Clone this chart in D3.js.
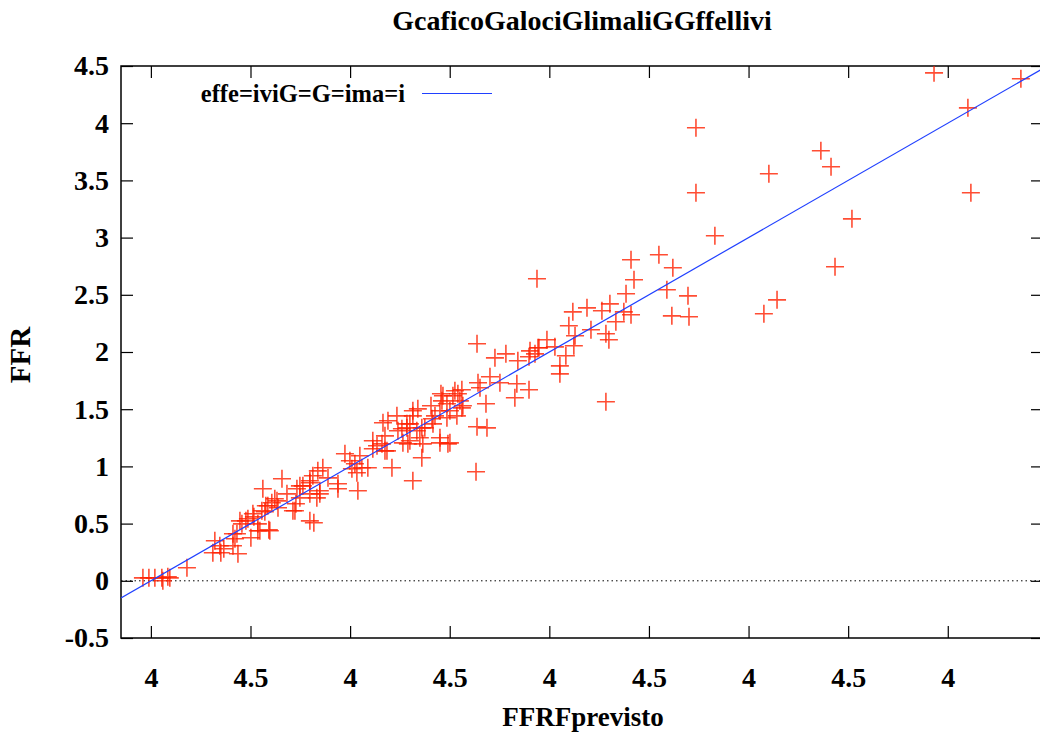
<!DOCTYPE html>
<html>
<head>
<meta charset="utf-8">
<script src="https://cdn.jsdelivr.net/npm/d3@7"></script>
<style>
  body { margin: 0; background: #fff; }
  svg { display: block; }
  text { font-family: "Liberation Serif", "Times New Roman", serif; font-weight: bold; fill: #000; }
</style>
</head>
<body>
<svg id="chart" width="1040" height="736"></svg>
<script>
// Labels
const titleText = "GcaficoGalociGlimaliGGffellivi";
const xLabelText = "FFRFprevisto";
const yLabelText = "FFR";
const legendText = "effe=iviG=G=ima=i";

// Tick values and the labels printed under / beside them
const xTickValues = [0, 0.5, 1, 1.5, 2, 2.5, 3, 3.5, 4];
const xTickLabels = ["4", "4.5", "4", "4.5", "4", "4.5", "4", "4.5", "4"];
const yTickValues = [-0.5, 0, 0.5, 1, 1.5, 2, 2.5, 3, 3.5, 4, 4.5];
const yTickLabels = ["-0.5", "0", "0.5", "1", "1.5", "2", "2.5", "3", "3.5", "4", "4.5"];

// Predicted FFR (x) and measured FFR (y), one entry per case
const ffrPredicted = [
  -0.040, -0.010, 0.020, 0.055, 0.060, 0.085, 0.095, 0.181,
  0.321, 0.346, 0.311, 0.351, 0.422, 0.432, 0.412, 0.437, 0.457, 0.502, 0.517, 0.537,
  0.547, 0.562, 0.572, 0.592, 0.607, 0.622, 0.638, 0.658, 0.577, 0.477,
  0.683, 0.733, 0.763, 0.798, 0.813, 0.838, 0.863, 0.848, 0.798, 0.833,
  0.939, 0.939, 0.889, 1.039, 0.974, 0.999, 1.024, 1.009, 1.034, 1.059,
  1.089, 1.049, 1.114, 1.135, 1.160, 1.175, 1.165, 1.190, 1.185, 1.210,
  1.235, 1.240, 1.260, 1.285, 1.300, 1.315, 1.340, 1.335, 1.350, 1.365,
  1.375, 1.360, 1.315, 1.300, 1.265, 1.114, 0.798, 0.713, 0.748,
  1.637, 1.782, 1.727, 1.842, 1.903, 1.928, 1.943, 1.988, 1.702, 1.642,
  1.652, 1.752, 1.837, 1.898, 1.827, 1.682, 1.561, 1.541, 1.516, 1.466,
  1.461, 1.486, 1.551, 1.561, 1.501, 1.451, 1.426, 1.411, 1.486, 1.536,
  1.406, 1.315, 1.285, 1.360, 1.637, 1.687, 1.632, 1.501, 1.451, 1.290,
  1.526, 1.456,
  1.938, 2.831, 2.410, 2.550, 2.620, 2.425, 2.385, 2.590, 2.696, 2.615,
  2.701, 2.304, 2.264, 2.189, 2.118, 2.098, 2.083, 2.129, 2.209, 2.334,
  2.374, 2.410, 2.284, 2.299, 2.123, 2.028, 1.948, 1.898, 2.053, 2.053,
  2.284,
  3.931, 4.367, 4.101, 2.736, 3.363, 3.414, 3.102, 2.736, 4.116, 3.519,
  3.434, 3.143, 3.077,
  0.818, 0.633, 0.587, 0.557, 0.512, 0.487, 0.447, 0.412, 0.597, 0.537,
  0.723, 0.728, 0.748, 0.798, 0.848, 1.416, 1.451, 1.491, 1.566, 1.175,
  0.366
];
const ffrMeasured = [
  0.026, 0.026, 0.026, 0.026, 0.000, 0.035, 0.026, 0.114,
  0.350, 0.306, 0.245, 0.245, 0.367, 0.411, 0.306, 0.236, 0.498, 0.376, 0.559, 0.498,
  0.437, 0.804, 0.603, 0.446, 0.682, 0.717, 0.638, 0.892, 0.656, 0.524,
  0.760, 0.804, 0.830, 0.874, 0.918, 0.961, 0.988, 0.787, 0.760, 0.725,
  0.848, 0.804, 0.900, 0.787, 1.110, 1.049, 1.023, 0.979, 0.944, 0.988,
  0.988, 1.093, 1.224, 1.180, 1.197, 1.267, 1.381, 1.399, 1.136, 0.988,
  1.442, 1.311, 1.329, 1.337, 1.372, 1.486, 1.503, 1.311, 1.250, 1.197,
  1.337, 1.075, 0.874, 1.224, 1.206, 1.154, 0.524, 0.612, 0.725,
  2.072, 1.984, 1.949, 1.923, 2.010, 1.984, 2.037, 2.107, 1.783, 1.731,
  1.687, 1.731, 1.722, 1.670, 1.600, 1.547, 1.670, 1.635, 1.617, 1.617,
  1.573, 1.547, 1.573, 1.512, 1.486, 1.486, 1.442, 1.416, 1.425, 1.442,
  1.530, 1.442, 1.372, 1.337, 1.346, 1.337, 0.953, 1.206, 1.206, 1.197,
  1.661, 1.635,
  2.640, 3.016, 2.806, 2.850, 2.736, 2.631, 2.509, 2.544, 2.491, 2.316,
  2.308, 2.421, 2.360, 2.386, 2.351, 2.229, 1.967, 2.142, 2.194, 2.264,
  2.351, 2.325, 2.159, 2.107, 2.054, 2.045, 2.037, 1.958, 1.879, 1.809,
  1.565,
  4.440, 4.388, 4.134, 3.960, 3.759, 3.619, 3.558, 3.392, 3.392, 3.164,
  2.745, 2.456, 2.334,
  0.507, 0.699, 0.656, 0.612, 0.586, 0.542, 0.524, 0.411, 0.437, 0.437,
  0.612, 0.673, 0.830, 0.857, 0.760, 1.372, 1.250, 1.197, 1.530, 1.136,
  0.280
];

// Reference line: measured = predicted
const refSlope = 1;
const refIntercept = 0;

const svg = d3.select("#chart");
const margin = { left: 121, top: 66, bottom: 638, right: 1043 };

const x = d3.scaleLinear().domain([-0.15, 4.478]).range([margin.left, margin.right]);
const y = d3.scaleLinear().domain([-0.5, 4.5]).range([margin.bottom, margin.top]);

svg.append("rect").attr("width", 1040).attr("height", 736).attr("fill", "#fff");

// Clip for data marks
svg.append("clipPath").attr("id", "plotClip")
  .append("rect")
  .attr("x", margin.left).attr("y", margin.top)
  .attr("width", margin.right - margin.left).attr("height", margin.bottom - margin.top);

// Zero line (dotted)
svg.append("line")
  .attr("x1", margin.left).attr("x2", margin.right)
  .attr("y1", y(0)).attr("y2", y(0))
  .attr("stroke", "#000").attr("stroke-width", 1)
  .attr("stroke-dasharray", "1.5,3");

// Axes with inward ticks
const tickLen = 12;
const axisStyle = g => {
  g.select(".domain").remove();
  g.selectAll(".tick line").attr("stroke", "#000").attr("stroke-width", 1.2);
  g.selectAll(".tick text")
    .style("font-family", "'Liberation Serif', 'Times New Roman', serif")
    .style("font-weight", "bold")
    .style("font-size", "28px")
    .attr("fill", "#000");
};

svg.append("g")
  .attr("transform", `translate(${margin.left},0)`)
  .call(d3.axisLeft(y).tickValues(yTickValues).tickSizeInner(-tickLen).tickSizeOuter(0)
    .tickPadding(12).tickFormat((d, i) => yTickLabels[i]))
  .call(axisStyle);

svg.append("g")
  .attr("transform", `translate(${margin.right},0)`)
  .call(d3.axisRight(y).tickValues(yTickValues).tickSizeInner(-tickLen).tickSizeOuter(0)
    .tickFormat(""))
  .call(axisStyle);

svg.append("g")
  .attr("transform", `translate(0,${margin.bottom})`)
  .call(d3.axisBottom(x).tickValues(xTickValues).tickSizeInner(-tickLen).tickSizeOuter(0)
    .tickPadding(29).tickFormat((d, i) => xTickLabels[i]))
  .call(axisStyle);

svg.append("g")
  .attr("transform", `translate(0,${margin.top})`)
  .call(d3.axisTop(x).tickValues(xTickValues).tickSizeInner(-tickLen).tickSizeOuter(0)
    .tickFormat(""))
  .call(axisStyle);

// Frame
svg.append("rect")
  .attr("x", margin.left).attr("y", margin.top)
  .attr("width", margin.right - margin.left).attr("height", margin.bottom - margin.top)
  .attr("fill", "none").attr("stroke", "#000").attr("stroke-width", 1.5);

// Data crosses
const points = ffrPredicted.map((v, i) => ({ px: v, py: ffrMeasured[i] }));
const arm = 9;
const marks = svg.append("g").attr("clip-path", "url(#plotClip)");
marks.selectAll("path.pt")
  .data(points)
  .join("path")
  .attr("class", "pt")
  .attr("d", d => {
    const cx = x(d.px), cy = y(d.py);
    return `M${cx - arm},${cy}H${cx + arm}M${cx},${cy - arm}V${cy + arm}`;
  })
  .attr("stroke", "#ff2000")
  .attr("stroke-opacity", 0.8)
  .attr("stroke-width", 1.6)
  .attr("fill", "none");

// Reference line
const xd = x.domain();
marks.append("line")
  .attr("x1", x(xd[0])).attr("y1", y(refSlope * xd[0] + refIntercept))
  .attr("x2", x(xd[1])).attr("y2", y(refSlope * xd[1] + refIntercept))
  .attr("stroke", "#2040ff").attr("stroke-width", 1.2);

// Legend
svg.append("text")
  .attr("x", 405).attr("y", 102)
  .attr("text-anchor", "end")
  .style("font-size", "24.5px")
  .text(legendText);
svg.append("line")
  .attr("x1", 422).attr("x2", 492).attr("y1", 93.5).attr("y2", 93.5)
  .attr("stroke", "#2040ff").attr("stroke-width", 1.2);

// Title
svg.append("text")
  .attr("x", 582).attr("y", 30)
  .attr("text-anchor", "middle")
  .style("font-size", "28px")
  .text(titleText);

// Axis titles
svg.append("text")
  .attr("x", 583).attr("y", 726)
  .attr("text-anchor", "middle")
  .style("font-size", "27px")
  .text(xLabelText);

svg.append("text")
  .attr("transform", "translate(30,355) rotate(-90)")
  .attr("text-anchor", "middle")
  .style("font-size", "29px")
  .text(yLabelText);
</script>
</body>
</html>
